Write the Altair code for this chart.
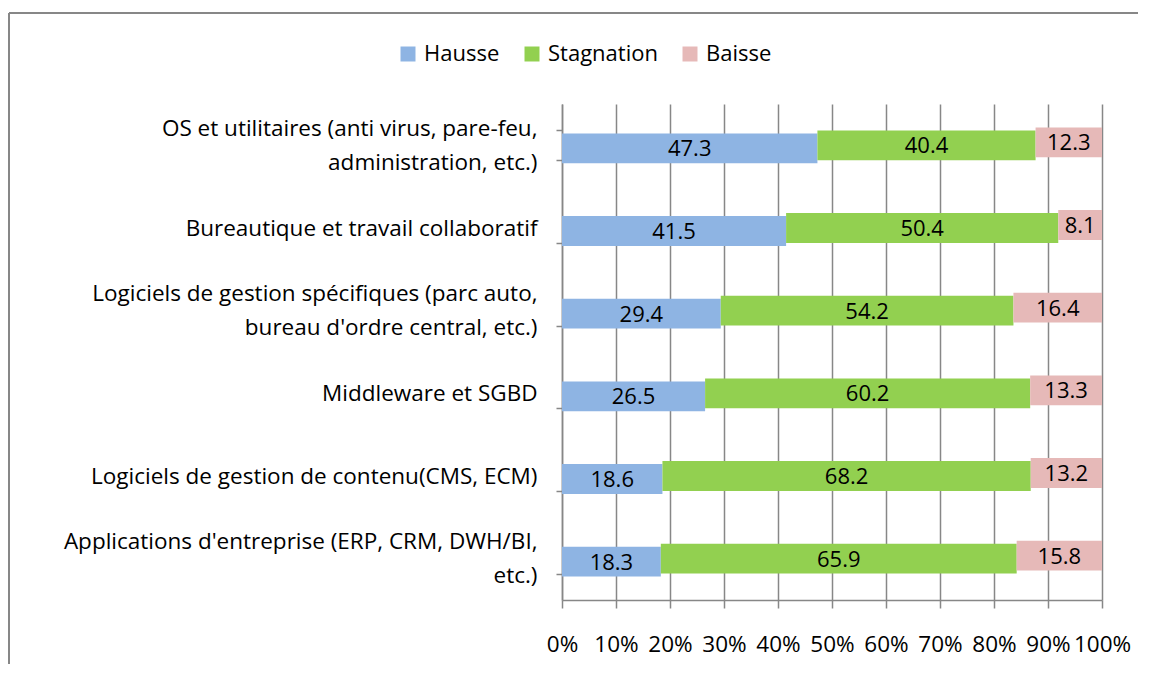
import altair as alt
import pandas as pd

categories = [
    "OS et utilitaires (anti virus, pare-feu,\nadministration, etc.)",
    "Bureautique et travail collaboratif",
    "Logiciels de gestion spécifiques (parc auto,\nbureau d'ordre central, etc.)",
    "Middleware et SGBD",
    "Logiciels de gestion de contenu(CMS, ECM)",
    "Applications d'entreprise (ERP, CRM, DWH/BI,\netc.)",
]
series = ["Hausse", "Stagnation", "Baisse"]
hausse = [47.3, 41.5, 29.4, 26.5, 18.6, 18.3]
stagnation = [40.4, 50.4, 54.2, 60.2, 68.2, 65.9]
baisse = [12.3, 8.1, 16.4, 13.3, 13.2, 15.8]
x_ticks = [0, 10, 20, 30, 40, 50, 60, 70, 80, 90, 100]
colors = ["#8EB4E3", "#92D050", "#E6B9B8"]

rows = []
for i, c in enumerate(categories):
    for j, (s, vals) in enumerate(zip(series, [hausse, stagnation, baisse])):
        rows.append({"cat": c, "serie": s, "idx": j, "value": vals[i]})
df = pd.DataFrame(rows)

FONT = "Open Sans"
GRAY = "#878787"

base = alt.Chart(df).transform_window(
    cum="sum(value)", groupby=["cat"], sort=[alt.SortField("idx")], frame=[None, 0]
).transform_calculate(
    start="datum.cum - datum.value", mid="datum.cum - datum.value / 2"
)

yenc = alt.Y(
    "cat:N",
    sort=categories,
    title=None,
    scale=alt.Scale(paddingInner=0.64, paddingOuter=0.32),
    axis=alt.Axis(
        labelExpr="split(datum.label, '\\n')",
        labelFontSize=22.5,
        labelFont=FONT,
        labelColor="#000000",
        labelLineHeight=34,
        labelOffset={"condition": {"test": "indexof(datum.label, '\\n') >= 0", "value": -17}, "value": 0},
        labelPadding=19,
        labelLimit=600,
        tickSize=6,
        tickColor=GRAY,
        tickWidth=1.5,
        tickBand="extent",
        domainColor=GRAY,
        domainWidth=1.5,
        grid=False,
    ),
)

xscale = alt.Scale(domain=[0, 100], nice=False)
xaxis = alt.Axis(
    values=x_ticks,
    labelExpr="datum.value + '%'",
    labelFontSize=22.5,
    labelFont=FONT,
    labelColor="#000000",
    labelPadding=25,
    tickSize=8,
    tickColor=GRAY,
    tickWidth=1.5,
    domainColor=GRAY,
    domainWidth=1.5,
    grid=True,
    gridColor=GRAY,
    gridWidth=1.5,
    title=None,
    labelFlush=False,
)

color = alt.Color(
    "serie:N",
    scale=alt.Scale(domain=series, range=colors),
    legend=alt.Legend(
        title=None,
        orient="none",
        legendX=-165,
        legendY=-61,
        direction="horizontal",
        symbolType="square",
        symbolSize=225,
        symbolStrokeWidth=0,
        labelFontSize=22,
        labelFont=FONT,
        labelColor="#000000",
        labelOffset=5,
        columnPadding=21,
    ),
)

offsets = {"Hausse": 3, "Stagnation": 0, "Baisse": -3}
layers = []
for s in series:
    b = base.transform_filter(alt.datum.serie == s)
    layers.append(
        b.mark_bar(yOffset=offsets[s]).encode(
            x=alt.X("start:Q", scale=xscale, axis=xaxis),
            x2="cum:Q",
            y=yenc,
            color=color,
        )
    )
for s in series:
    b = base.transform_filter(alt.datum.serie == s)
    layers.append(
        b.mark_text(fontSize=22, font=FONT, color="#000000", dy=offsets[s] + 1).encode(
            x=alt.X("mid:Q", scale=xscale),
            y=alt.Y("cat:N", sort=categories),
            text=alt.Text("value:Q", format=".1f"),
        )
    )

frame_top = alt.Chart(df).mark_rule(color=GRAY, strokeWidth=2).encode(
    x=alt.value(-553), x2=alt.value(600), y=alt.value(-91)
)
frame_left = alt.Chart(df).mark_rule(color=GRAY, strokeWidth=2).encode(
    x=alt.value(-553), y=alt.value(-91), y2=alt.value(600)
)

chart = alt.layer(*layers, frame_top, frame_left).properties(
    width=540,
    height=496,
    autosize=alt.AutoSizeParams(type="none"),
    padding={"left": 554, "top": 96, "right": 36, "bottom": 64},
    background="white",
).configure_view(stroke=None)

chart.save("out.html", embed_options={"renderer": "svg", "actions": False})
